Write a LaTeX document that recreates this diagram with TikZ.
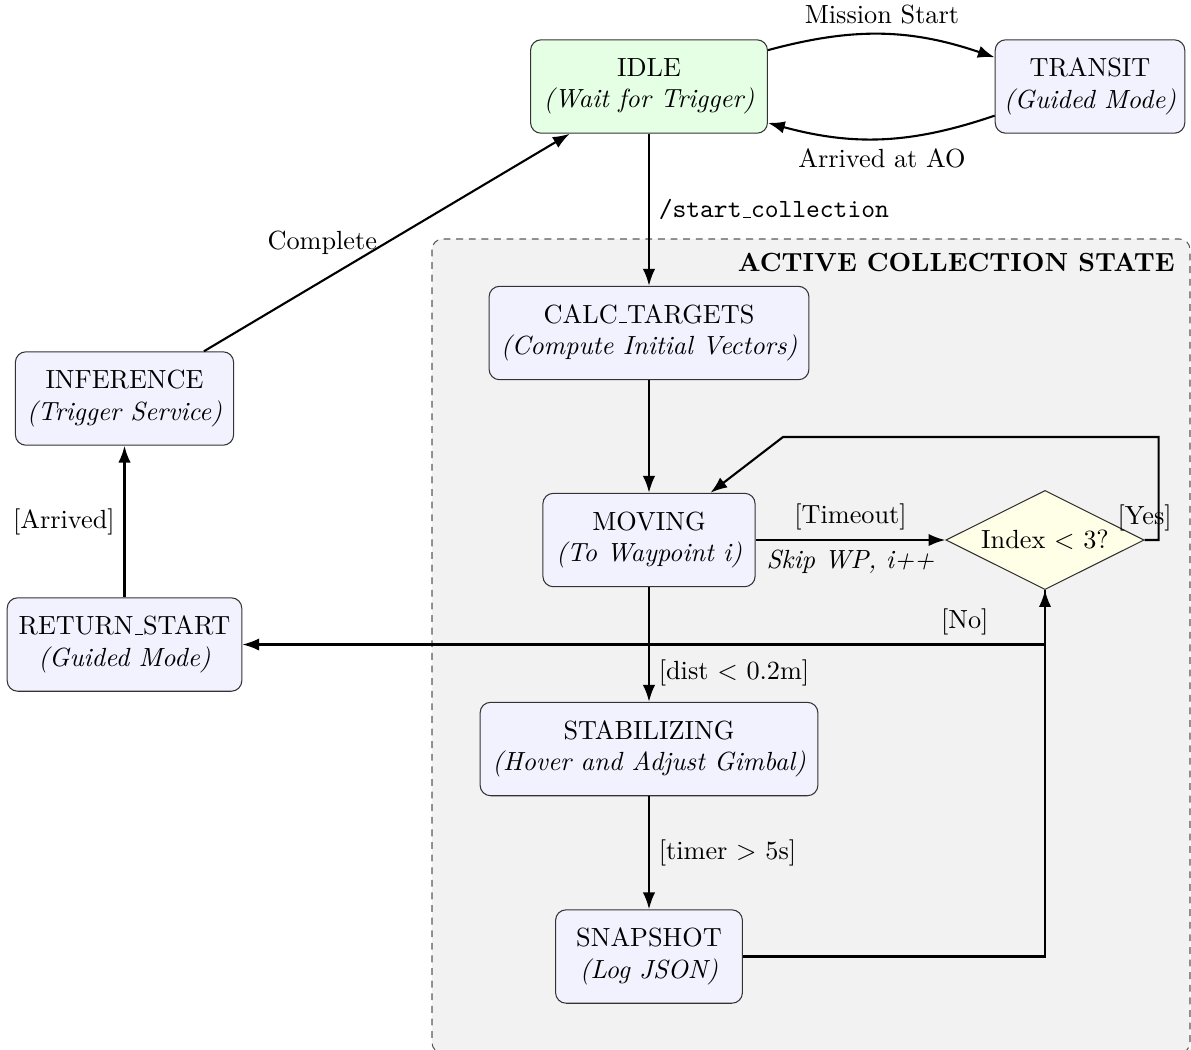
\documentclass[tikz,border=0pt]{standalone}
\usetikzlibrary{shapes.geometric, arrows.meta, calc}
\newcommand{\lowbar}{\leavevmode\kern.06em\vbox{\hrule width.3em}}
\begin{document}
\begin{tikzpicture}[x=0.013387cm, y=0.013387cm,
  state/.style={draw=black!80, fill=blue!5, rounded corners, align=center, minimum height=1.25cm, minimum width=2.5cm, inner sep=3.33pt},
  idlestate/.style={state, fill=green!10},
  decision/.style={diamond, aspect=2, draw=black!80, fill=yellow!10, inner sep=2pt},
  arr/.style={-{Latex[length=6.4pt,width=4.7pt]}, thick},
  region/.style={dash pattern=on 2.6pt off 2.2pt, draw=black!65, fill=gray!10, rounded corners}
]
\useasboundingbox (0,0) rectangle (1191,-1049);
\draw[region] (432,-239) rectangle (1190,-1053);
\node[anchor=north east, font=\bfseries] (title) at (1184,-244) {ACTIVE COLLECTION STATE};

\node[idlestate, minimum width=3.17cm] (idle) at (649,-86.5) {IDLE\\\textit{(Wait for Trigger)}};
\node[state] (transit) at (1090,-86.5) {TRANSIT\\\textit{(Guided Mode)}};
\node[state, minimum width=4.28cm] (calc) at (649,-333) {CALC\lowbar TARGETS\\\textit{(Compute Initial Vectors)}};
\node[state, minimum width=2.84cm] (moving) at (649,-540) {MOVING\\\textit{(To Waypoint i)}};
\node[state, minimum width=4.52cm] (stab) at (649,-749) {STABILIZING\\\textit{(Hover and Adjust Gimbal)}};
\node[state] (snap) at (649,-956.5) {SNAPSHOT\\\textit{(Log JSON)}};
\node[state, minimum width=2.92cm] (inf) at (124.5,-398.5) {INFERENCE\\\textit{(Trigger Service)}};
\node[state, minimum width=3.14cm] (ret) at (124.5,-644.5) {RETURN\lowbar START\\\textit{(Guided Mode)}};
\node[decision] (dec) at (1045,-540) {Index $<$ 3?};
\coordinate (yk) at (783,-437);

\draw[arr] (idle) to[bend left=17] node[above]{Mission Start} (transit);
\draw[arr] (transit) to[bend left=17] node[below]{Arrived at AO} (idle);
\draw[arr] (idle) -- node[right]{\texttt{/start\lowbar collection}} (calc);
\draw[arr] (calc) -- (moving);
\draw[arr] (moving) -- node[above]{[Timeout]} node[below]{\textit{Skip WP, i++}} (dec);
\draw[arr] (moving) -- node[near end, right]{[dist $<$ 0.2m]} (stab);
\draw[arr] (stab) -- node[right]{[timer $>$ 5s]} (snap);
\draw[arr] (snap) -| (dec);
\draw[arr] (dec.east) -- ++(14,0) |- (yk) -- (moving);
\node[above] (yeslab) at (dec.east) {[Yes]};
\draw[arr] (dec.south) |- node[pos=0.55, above]{[No]} (ret);
\draw[arr] (ret) -- node[left]{[Arrived]} (inf);
\draw[arr] (inf) -- node[left]{Complete} (idle);
\end{tikzpicture}
\end{document}
